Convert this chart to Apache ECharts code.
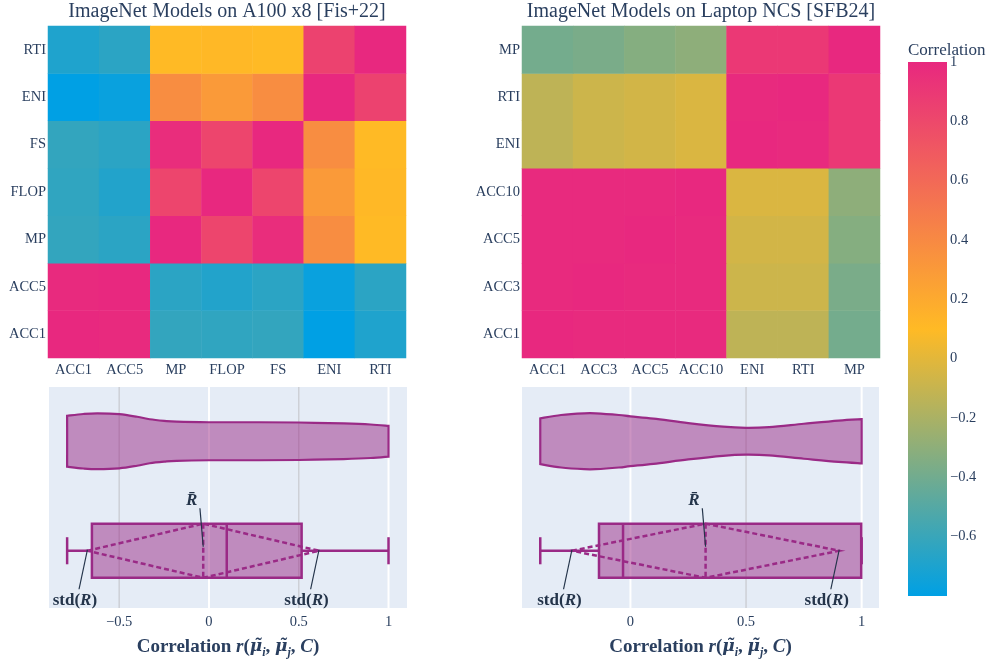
<!DOCTYPE html>
<html>
<head>
<meta charset="utf-8">
<script src="https://cdn.jsdelivr.net/npm/echarts@6/dist/echarts.min.js"></script>
<style>
  html, body { margin: 0; padding: 0; background: #ffffff; }
  #chart { width: 991px; height: 664px; }
</style>
</head>
<body>
<div id="chart"></div>
<script>
// ---- Correlation matrices (rows/cols share the metric order; y runs bottom -> top)
const metricsA = ['ACC1', 'ACC5', 'MP', 'FLOP', 'FS', 'ENI', 'RTI'];
const corrA = [
  [1.00, 0.99, -0.62, -0.63, -0.62, -0.80, -0.69],
  [0.99, 1.00, -0.65, -0.68, -0.65, -0.77, -0.65],
  [-0.62, -0.65, 1.00, 0.82, 0.97, 0.38, 0.10],
  [-0.63, -0.68, 0.82, 1.00, 0.82, 0.30, 0.11],
  [-0.62, -0.65, 0.97, 0.82, 1.00, 0.38, 0.10],
  [-0.80, -0.77, 0.38, 0.30, 0.38, 1.00, 0.84],
  [-0.69, -0.65, 0.10, 0.11, 0.10, 0.84, 1.00]
];
const metricsB = ['ACC1', 'ACC3', 'ACC5', 'ACC10', 'ENI', 'RTI', 'MP'];
const corrB = [
  [1.00, 0.99, 0.99, 0.99, -0.13, -0.13, -0.39],
  [0.99, 1.00, 0.99, 0.99, -0.08, -0.08, -0.37],
  [0.99, 0.99, 1.00, 0.99, -0.06, -0.06, -0.33],
  [0.99, 0.99, 0.99, 1.00, -0.03, -0.03, -0.30],
  [-0.13, -0.08, -0.06, -0.03, 1.00, 0.99, 0.90],
  [-0.13, -0.08, -0.06, -0.03, 0.99, 1.00, 0.90],
  [-0.39, -0.37, -0.33, -0.30, 0.90, 0.90, 1.00]
];

// ---- Shared colour scale
const colorMin = -0.8;
const colorMax = 1;
const colorScale = ['#00A0E4', '#FFBA25', '#E8287F'];
const colorTicks = [-0.6, -0.4, -0.2, 0, 0.2, 0.4, 0.6, 0.8, 1];

// ---- Distribution summaries of the pairwise correlations: [min, q1, median, q3, max]
const boxA = [-0.79, -0.652, 0.099, 0.516, 1.0];
const meanA = -0.032;
const sdA = 0.645;
const boxB = [-0.39, -0.136, -0.032, 0.998, 1.0];
const meanB = 0.325;
const sdB = 0.578;

// ---- Violin outlines: sample positions and relative density (1 = widest)
const violinAx = [-0.79, -0.70, -0.62, -0.50, -0.40, -0.33, -0.25, -0.18, 0.00, 0.25, 0.50, 0.75, 0.90, 1.00];
const violinAd = [0.91, 0.975, 1.00, 0.97, 0.875, 0.786, 0.73, 0.70, 0.68, 0.68, 0.67, 0.636, 0.60, 0.55];
const violinBx = [-0.39, -0.30, -0.20, -0.15, -0.05, 0.00, 0.10, 0.25, 0.40, 0.50, 0.60, 0.75, 0.90, 1.00];
const violinBd = [0.82, 0.94, 1.00, 1.00, 0.94, 0.89, 0.81, 0.65, 0.52, 0.48, 0.505, 0.625, 0.74, 0.79];

// ---- Axis ticks of the distribution panels
const ticksA = [-0.5, 0, 0.5, 1];
const ticksB = [0, 0.5, 1];

// ---------------------------------------------------------------------------
const FONT = "'Liberation Serif', 'Times New Roman', serif";
const MATH = "'DejaVu Serif', 'Liberation Serif', serif";
const TEXT = '#2a3f5f';
const LINE = '#9A2A86';
const FILL = 'rgba(154, 42, 134, 0.5)';
const ANNO = '#24344a';

const fmt = v => {
  const n = Math.round(v * 100) / 100;
  return String(n).replace('-', '\u2212');
};

function heatData(m) {
  const out = [];
  for (let i = 0; i < m.length; i++) {
    for (let j = 0; j < m[i].length; j++) out.push([j, i, m[i][j]]);
  }
  return out;
}

function smoothSegs(pts) {
  let d = '';
  for (let i = 0; i < pts.length - 1; i++) {
    const p0 = pts[Math.max(i - 1, 0)], p1 = pts[i], p2 = pts[i + 1], p3 = pts[Math.min(i + 2, pts.length - 1)];
    const c1 = [p1[0] + (p2[0] - p0[0]) / 6, p1[1] + (p2[1] - p0[1]) / 6];
    const c2 = [p2[0] - (p3[0] - p1[0]) / 6, p2[1] - (p3[1] - p1[1]) / 6];
    d += ' C' + c1[0] + ',' + c1[1] + ' ' + c2[0] + ',' + c2[1] + ' ' + p2[0] + ',' + p2[1];
  }
  return d;
}

function violinRender(xs, dens) {
  return function (params, api) {
    const half = api.size([0, 1])[1] * 0.253;
    const top = xs.map((x, i) => { const p = api.coord([x, 1]); return [p[0], p[1] - 1 - dens[i] * half]; });
    const bot = xs.map((x, i) => { const p = api.coord([x, 1]); return [p[0], p[1] - 1 + dens[i] * half]; }).reverse();
    const d = 'M' + top[0][0] + ',' + top[0][1] + smoothSegs(top) +
      ' L' + bot[0][0] + ',' + bot[0][1] + smoothSegs(bot) + ' Z';
    return {
      type: 'path',
      shape: { pathData: d },
      style: { fill: FILL, stroke: LINE, lineWidth: 2.2 }
    };
  };
}

function annoText(parts, x, y) {
  return {
    type: 'text',
    style: {
      text: parts, x: x, y: y, align: 'center', verticalAlign: 'middle',
      fill: ANNO,
      rich: {
        n: { fontFamily: FONT, fontWeight: 'bold', fontSize: 17, fill: ANNO },
        it: { fontFamily: FONT, fontWeight: 'bold', fontStyle: 'italic', fontSize: 17, fill: ANNO }
      }
    }
  };
}

function boxRender(stats, mean, sd) {
  return function (params, api) {
    const c = v => api.coord([v, 0]);
    const yc = c(stats[2])[1] - 2;
    const h = api.size([0, 1])[1] * 0.245;
    const xs = stats.map(v => c(v)[0]);
    const xm = c(mean)[0], xl = c(mean - sd)[0], xr = c(mean + sd)[0];
    const solid = { stroke: LINE, lineWidth: 2.5, fill: null };
    const dashed = { stroke: LINE, lineWidth: 2.5, fill: null, lineDash: [5, 3] };
    const anno = { stroke: ANNO, lineWidth: 1.2 };
    return {
      type: 'group',
      children: [
        { type: 'line', shape: { x1: xs[0], y1: yc, x2: xs[1], y2: yc }, style: solid },
        { type: 'line', shape: { x1: xs[3], y1: yc, x2: xs[4], y2: yc }, style: solid },
        { type: 'line', shape: { x1: xs[0], y1: yc - h / 2, x2: xs[0], y2: yc + h / 2 }, style: solid },
        { type: 'line', shape: { x1: xs[4], y1: yc - h / 2, x2: xs[4], y2: yc + h / 2 }, style: solid },
        { type: 'rect', shape: { x: xs[1], y: yc - h, width: xs[3] - xs[1], height: 2 * h },
          style: { fill: FILL, stroke: LINE, lineWidth: 2.5 } },
        { type: 'line', shape: { x1: xs[2], y1: yc - h, x2: xs[2], y2: yc + h }, style: solid },
        { type: 'line', shape: { x1: xm, y1: yc - h, x2: xm, y2: yc + h }, style: dashed },
        { type: 'polygon', shape: { points: [[xl, yc], [xm, yc - h], [xr, yc], [xm, yc + h]] }, style: dashed },
        // mean label
        { type: 'line', shape: { x1: xm - 3.3, y1: yc - 42.5, x2: xm, y2: yc - 4 }, style: anno },
        annoText('{it|R\u0304}', xm - 11.6, yc - 50),
        // mean - sd and mean + sd labels
        { type: 'line', shape: { x1: xl - 8.4, y1: yc + 38.5, x2: xl, y2: yc - 1 }, style: anno },
        annoText('{n|std(}{it|R}{n|)}', xl - 12.5, yc + 49.5),
        { type: 'line', shape: { x1: xr - 8.4, y1: yc + 38.5, x2: xr, y2: yc - 1 }, style: anno },
        annoText('{n|std(}{it|R}{n|)}', xr - 12.5, yc + 49.5)
      ]
    };
  };
}

function gridLineRender(params, api) {
  const v = api.value(0);
  const x = api.coord([v, 0])[0];
  const cs = params.coordSys;
  const strong = (v === 0 || v === 1);
  return {
    type: 'line',
    shape: { x1: x, y1: cs.y, x2: x, y2: cs.y + cs.height },
    style: { stroke: strong ? '#ffffff' : '#cdd0d6', lineWidth: strong ? 2 : 1.5 }
  };
}

function colorbarRender(params, api) {
  const cs = params.coordSys;
  const yTop = api.coord([0, colorMax])[1];
  const yBot = api.coord([0, colorMin])[1];
  const n = colorScale.length - 1;
  const stops = colorScale.map((col, i) => ({ offset: 1 - i / n, color: col })).reverse();
  return {
    type: 'rect',
    shape: { x: cs.x, y: yTop, width: cs.width, height: yBot - yTop },
    style: { fill: new echarts.graphic.LinearGradient(0, 0, 0, 1, stops) }
  };
}

const axisNameRich = {
  b: { fontFamily: FONT, fontWeight: 'bold', fontSize: 19, color: TEXT, lineHeight: 24 },
  i: { fontFamily: FONT, fontWeight: 'bold', fontStyle: 'italic', fontSize: 19, color: TEXT, lineHeight: 24 },
  m: { fontFamily: MATH, fontWeight: 'bold', fontStyle: 'italic', fontSize: 17, color: TEXT, lineHeight: 24 },
  s: { fontFamily: FONT, fontWeight: 'bold', fontStyle: 'italic', fontSize: 12, color: TEXT, lineHeight: 12, verticalAlign: 'bottom' }
};
const axisName = '{b|Correlation }{i|r}{b|(}{m|\u03BC\u0303}{s|i}{b|, }{m|\u03BC\u0303}{s|j}{b|, }{i|C}{b|)}';

function heatXAxis(idx, cats) {
  return {
    type: 'category', gridIndex: idx, data: cats,
    axisLine: { show: false }, axisTick: { show: false }, splitLine: { show: false },
    axisLabel: { color: TEXT, fontFamily: FONT, fontSize: 14.5, margin: 5, interval: 0 }
  };
}
function heatYAxis(idx, cats) {
  return {
    type: 'category', gridIndex: idx, data: cats,
    axisLine: { show: false }, axisTick: { show: false }, splitLine: { show: false },
    axisLabel: { color: TEXT, fontFamily: FONT, fontSize: 14.5, margin: 2, interval: 0 }
  };
}
function distXAxis(idx, min, max, ticks) {
  return {
    type: 'value', gridIndex: idx, min: min, max: max,
    axisLine: { show: false }, axisTick: { show: false }, splitLine: { show: false },
    axisLabel: { color: TEXT, fontFamily: FONT, fontSize: 14.5, margin: 7, customValues: ticks, formatter: fmt },
    name: axisName, nameLocation: 'middle', nameGap: 27,
    nameTextStyle: { rich: axisNameRich }
  };
}
function distYAxis(idx) {
  return {
    type: 'category', gridIndex: idx, data: ['box', 'violin'], show: false
  };
}

const titleStyle = { fontFamily: FONT, fontSize: 20, fontWeight: 'normal', color: TEXT };

const option = {
  animation: false,
  backgroundColor: '#ffffff',
  title: [
    { text: 'ImageNet Models on A100 x8 [Fis+22]', left: 227, top: 2, textAlign: 'center', padding: 0, textStyle: titleStyle },
    { text: 'ImageNet Models on Laptop NCS [SFB24]', left: 701, top: 2, textAlign: 'center', padding: 0, textStyle: titleStyle },
    { text: 'Correlation', left: 908, top: 42, padding: 0,
      textStyle: { fontFamily: FONT, fontSize: 17, fontWeight: 'normal', color: TEXT } }
  ],
  grid: [
    { left: 48, top: 26, width: 358, height: 332, outerBoundsMode: 'none' },
    { left: 522, top: 26, width: 358, height: 332, outerBoundsMode: 'none' },
    { left: 49, top: 387, width: 358, height: 221, show: true, backgroundColor: '#E5ECF6', borderWidth: 0, outerBoundsMode: 'none' },
    { left: 522, top: 387, width: 357, height: 221, show: true, backgroundColor: '#E5ECF6', borderWidth: 0, outerBoundsMode: 'none' },
    { left: 908, top: 62, width: 39, height: 534, outerBoundsMode: 'none' }
  ],
  xAxis: [
    heatXAxis(0, metricsA),
    heatXAxis(1, metricsB),
    distXAxis(2, -0.891, 1.103, ticksA),
    distXAxis(3, -0.469, 1.075, ticksB),
    { type: 'value', gridIndex: 4, min: 0, max: 1, show: false }
  ],
  yAxis: [
    heatYAxis(0, metricsA),
    heatYAxis(1, metricsB),
    distYAxis(2),
    distYAxis(3),
    {
      type: 'value', gridIndex: 4, min: colorMin, max: colorMax, position: 'right',
      axisLine: { show: false }, axisTick: { show: false }, splitLine: { show: false },
      axisLabel: { color: TEXT, fontFamily: FONT, fontSize: 14.5, margin: 3, customValues: colorTicks, formatter: fmt }
    }
  ],
  visualMap: {
    type: 'continuous', show: false, min: colorMin, max: colorMax, seriesIndex: [0, 1], dimension: 2,
    inRange: { color: colorScale }
  },
  series: [
    { type: 'heatmap', xAxisIndex: 0, yAxisIndex: 0, data: heatData(corrA), itemStyle: { borderWidth: 0 }, emphasis: { disabled: true } },
    { type: 'heatmap', xAxisIndex: 1, yAxisIndex: 1, data: heatData(corrB), itemStyle: { borderWidth: 0 }, emphasis: { disabled: true } },
    { type: 'custom', xAxisIndex: 2, yAxisIndex: 2, z: 1, silent: true, data: ticksA.map(v => [v, 0]), renderItem: gridLineRender },
    { type: 'custom', xAxisIndex: 3, yAxisIndex: 3, z: 1, silent: true, data: ticksB.map(v => [v, 0]), renderItem: gridLineRender },
    { type: 'custom', xAxisIndex: 2, yAxisIndex: 2, z: 2, silent: true, data: [[0, 1]], renderItem: violinRender(violinAx, violinAd) },
    { type: 'custom', xAxisIndex: 3, yAxisIndex: 3, z: 2, silent: true, data: [[0, 1]], renderItem: violinRender(violinBx, violinBd) },
    { type: 'custom', xAxisIndex: 2, yAxisIndex: 2, z: 3, silent: true, data: [[0, 0]], renderItem: boxRender(boxA, meanA, sdA) },
    { type: 'custom', xAxisIndex: 3, yAxisIndex: 3, z: 3, silent: true, data: [[0, 0]], renderItem: boxRender(boxB, meanB, sdB) },
    { type: 'custom', xAxisIndex: 4, yAxisIndex: 4, silent: true, data: [[0, 0]], renderItem: colorbarRender }
  ]
};

const chart = echarts.init(document.getElementById('chart'), null, { renderer: 'canvas' });
chart.setOption(option);
</script>
</body>
</html>
